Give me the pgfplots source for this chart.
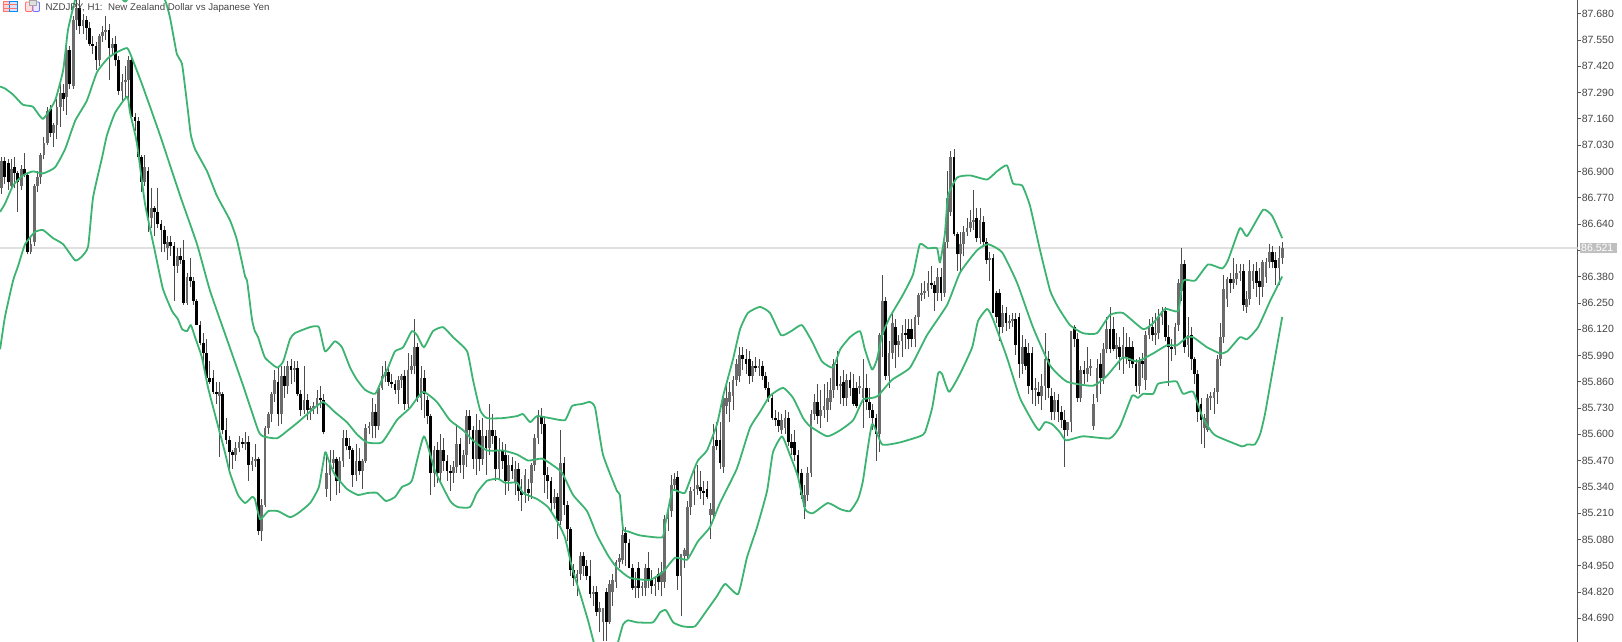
\documentclass[border=0pt]{standalone}
\usepackage{fontspec}
\setmainfont{Liberation Sans}
\usepackage{pgfplots}
\usepackage{pgfplotstable}
\pgfplotsset{compat=1.18}
\definecolor{band}{HTML}{3CB371}
\definecolor{axgrey}{HTML}{555555}
\definecolor{txtgrey}{HTML}{444444}
\pgfplotstableread{
i o h l c
0 86.82 86.97 86.79 86.95
1 86.95 86.97 86.84 86.87
2 86.94 86.96 86.81 86.85
3 86.83 86.96 86.81 86.91
4 86.92 86.97 86.82 86.89
5 86.89 86.90 86.70 86.85
6 86.83 86.93 86.81 86.91
7 86.91 86.99 86.87 86.88
8 86.88 86.89 86.49 86.50
9 86.50 86.58 86.49 86.54
10 86.55 86.84 86.53 86.83
11 86.83 86.90 86.80 86.87
12 86.87 86.99 86.84 86.98
13 86.98 87.07 86.96 87.04
14 87.04 87.22 87.03 87.20
15 87.21 87.23 87.07 87.09
16 87.09 87.14 87.02 87.13
17 87.13 87.26 87.06 87.22
18 87.22 87.33 87.12 87.29
19 87.29 87.33 87.20 87.26
20 87.27 87.51 87.18 87.50
21 87.50 87.52 87.31 87.33
22 87.32 87.67 87.31 87.65
23 87.65 87.75 87.60 87.71
24 87.71 87.75 87.58 87.62
25 87.62 87.68 87.58 87.65
26 87.65 87.67 87.55 87.61
27 87.61 87.64 87.52 87.53
28 87.53 87.57 87.48 87.52
29 87.52 87.54 87.40 87.45
30 87.45 87.58 87.42 87.57
31 87.57 87.62 87.54 87.59
32 87.59 87.67 87.55 87.60
33 87.60 87.63 87.35 87.51
34 87.51 87.56 87.47 87.53
35 87.53 87.57 87.42 87.45
36 87.45 87.47 87.28 87.30
37 87.30 87.38 87.25 87.34
38 87.34 87.42 87.26 87.35
39 87.35 87.47 87.24 87.45
40 87.45 87.46 87.15 87.17
41 87.17 87.19 87.10 87.15
42 87.15 87.17 86.96 86.97
43 86.97 86.98 86.80 86.85
44 86.85 86.98 86.83 86.92
45 86.90 86.92 86.60 86.67
46 86.67 86.82 86.62 86.72
47 86.72 86.73 86.58 86.70
48 86.70 86.82 86.62 86.64
49 86.64 86.66 86.50 86.61
50 86.61 86.63 86.50 86.54
51 86.52 86.58 86.46 86.55
52 86.55 86.58 86.48 86.53
53 86.53 86.55 86.26 86.43
54 86.43 86.52 86.40 86.48
55 86.48 86.52 86.44 86.46
56 86.46 86.56 86.24 86.25
57 86.25 86.40 86.24 86.38
58 86.38 86.47 86.33 86.36
59 86.36 86.38 86.24 86.26
60 86.26 86.27 86.14 86.14
61 86.14 86.16 86.04 86.05
62 86.05 86.10 85.93 86.00
63 86.00 86.07 85.88 85.88
64 85.88 85.96 85.85 85.86
65 85.88 85.92 85.80 85.81
66 85.81 85.86 85.75 85.80
67 85.79 85.86 85.49 85.81
68 85.80 85.81 85.60 85.62
69 85.62 85.68 85.55 85.57
70 85.57 85.59 85.42 85.51
71 85.51 85.52 85.43 85.50
72 85.50 85.56 85.47 85.53
73 85.53 85.59 85.51 85.56
74 85.56 85.58 85.53 85.55
75 85.55 85.61 85.52 85.56
76 85.56 85.59 85.37 85.45
77 85.45 85.49 85.42 85.47
78 85.47 85.55 85.44 85.48
79 85.48 85.49 85.10 85.12
80 85.12 85.28 85.07 85.25
81 85.25 85.64 85.24 85.63
82 85.63 85.71 85.60 85.70
83 85.70 85.81 85.66 85.80
84 85.80 85.92 85.76 85.87
85 85.86 85.93 85.64 85.70
86 85.70 85.94 85.65 85.89
87 85.89 85.94 85.78 85.84
88 85.84 85.96 85.80 85.94
89 85.94 85.97 85.85 85.92
90 85.92 85.96 85.86 85.93
91 85.93 85.96 85.79 85.80
92 85.80 85.82 85.69 85.72
93 85.72 85.94 85.70 85.77
94 85.77 85.80 85.67 85.72
95 85.72 85.74 85.67 85.73
96 85.73 85.76 85.70 85.74
97 85.74 85.82 85.70 85.78
98 85.78 85.84 85.73 85.77
99 85.77 85.80 85.60 85.61
100 85.33 85.51 85.29 85.41
101 85.40 85.52 85.27 85.46
102 85.46 85.52 85.43 85.48
103 85.48 85.49 85.30 85.37
104 85.37 85.49 85.31 85.47
105 85.47 85.62 85.44 85.58
106 85.58 85.62 85.52 85.54
107 85.54 85.58 85.48 85.52
108 85.52 85.53 85.34 85.40
109 85.40 85.55 85.37 85.47
110 85.47 85.53 85.40 85.42
111 85.42 85.48 85.33 85.47
112 85.47 85.65 85.46 85.63
113 85.63 85.66 85.60 85.64
114 85.64 85.78 85.58 85.71
115 85.71 85.75 85.58 85.64
116 85.64 85.83 85.62 85.83
117 85.83 85.94 85.82 85.89
118 85.89 85.96 85.86 85.91
119 85.91 85.94 85.84 85.86
120 85.86 85.90 85.83 85.85
121 85.85 85.87 85.80 85.82
122 85.82 85.89 85.75 85.87
123 85.87 85.90 85.83 85.89
124 85.89 85.92 85.72 85.75
125 85.75 86.00 85.73 85.92
126 85.92 85.99 85.90 85.94
127 85.94 86.17 85.90 86.03
128 86.03 86.05 85.76 85.78
129 85.78 85.94 85.72 85.88
130 85.88 85.92 85.68 85.80
131 85.77 85.79 85.65 85.69
132 85.69 85.70 85.30 85.41
133 85.41 85.54 85.34 85.52
134 85.52 85.56 85.36 85.41
135 85.41 85.60 85.37 85.52
136 85.52 85.58 85.42 85.47
137 85.47 85.50 85.37 85.42
138 85.42 85.45 85.32 85.41
139 85.41 85.47 85.36 85.44
140 85.44 85.65 85.41 85.55
141 85.55 85.58 85.41 85.45
142 85.45 85.52 85.38 85.50
143 85.50 85.72 85.44 85.69
144 85.69 85.72 85.55 85.62
145 85.62 85.64 85.43 85.48
146 85.48 85.70 85.40 85.62
147 85.62 85.67 85.42 85.48
148 85.48 85.68 85.45 85.59
149 85.59 85.62 85.40 85.53
150 85.53 85.75 85.50 85.62
151 85.62 85.70 85.55 85.59
152 85.59 85.62 85.37 85.43
153 85.43 85.58 85.38 85.52
154 85.52 85.56 85.43 85.47
155 85.50 85.55 85.30 85.37
156 85.37 85.50 85.32 85.45
157 85.45 85.49 85.38 85.42
158 85.36 85.47 85.30 85.43
159 85.43 85.46 85.27 85.32
160 85.32 85.38 85.22 85.30
161 85.30 85.43 85.26 85.40
162 85.33 85.38 85.27 85.31
163 85.36 85.46 85.28 85.45
164 85.45 85.60 85.42 85.58
165 85.58 85.72 85.55 85.69
166 85.69 85.73 85.60 85.65
167 85.65 85.69 85.31 85.40
168 85.40 85.44 85.28 85.37
169 85.37 85.39 85.21 85.26
170 85.26 85.33 85.23 85.29
171 85.29 85.31 85.08 85.17
172 85.17 85.62 85.15 85.46
173 85.46 85.49 85.20 85.25
174 85.25 85.27 85.07 85.13
175 85.13 85.14 84.90 84.93
176 84.93 84.96 84.85 84.89
177 84.89 84.93 84.80 84.91
178 84.91 85.02 84.88 85.00
179 85.00 85.02 84.90 84.95
180 84.95 84.98 84.88 84.90
181 84.90 84.98 84.79 84.81
182 84.81 84.85 84.75 84.82
183 84.82 84.85 84.70 84.72
184 84.72 84.77 84.62 84.74
185 84.67 84.74 84.58 84.74
186 84.82 84.84 84.58 84.67
187 84.67 84.88 84.66 84.86
188 84.82 84.91 84.75 84.88
189 84.87 84.98 84.84 84.97
190 84.97 85.01 84.94 84.99
191 84.98 85.14 84.96 85.10
192 85.11 85.14 84.95 85.06
193 85.06 85.08 84.94 84.94
194 84.94 84.96 84.83 84.84
195 84.84 84.92 84.79 84.85
196 84.94 84.97 84.79 84.84
197 84.84 84.87 84.80 84.85
198 84.84 84.96 84.80 84.94
199 84.94 85.02 84.84 84.88
200 84.88 84.93 84.81 84.85
201 84.85 84.90 84.80 84.86
202 84.91 84.94 84.83 84.87
203 84.87 84.97 84.80 84.92
204 84.87 85.20 84.84 85.18
205 85.18 85.25 85.12 85.22
206 85.22 85.40 85.19 85.35
207 85.35 85.41 85.32 85.38
208 85.39 85.42 84.83 84.90
209 84.90 85.01 84.70 85.01
210 85.00 85.04 84.94 85.03
211 85.00 85.27 84.98 85.24
212 85.24 85.34 85.20 85.32
213 85.32 85.43 85.25 85.33
214 85.33 85.45 85.30 85.35
215 85.34 85.42 85.28 85.32
216 85.32 85.37 85.25 85.31
217 85.33 85.37 85.28 85.29
218 85.20 85.26 85.08 85.23
219 85.20 85.65 85.18 85.54
220 85.57 85.66 85.52 85.54
221 85.57 85.66 85.43 85.46
222 85.44 85.79 85.41 85.78
223 85.74 85.85 85.70 85.78
224 85.76 85.86 85.66 85.81
225 85.79 85.89 85.72 85.87
226 85.87 85.97 85.84 85.95
227 85.89 86.03 85.86 85.99
228 85.99 86.03 85.92 85.97
229 85.97 86.02 85.90 85.95
230 85.97 86.01 85.85 85.89
231 85.89 85.96 85.86 85.94
232 85.94 85.98 85.91 85.93
233 85.93 85.97 85.89 85.94
234 85.94 85.96 85.87 85.89
235 85.89 85.91 85.82 85.83
236 85.83 85.86 85.76 85.78
237 85.78 85.80 85.67 85.68
238 85.68 85.72 85.64 85.67
239 85.67 85.71 85.61 85.64
240 85.62 85.70 85.60 85.67
241 85.63 85.72 85.60 85.68
242 85.68 85.71 85.54 85.56
243 85.56 85.60 85.50 85.53
244 85.56 85.62 85.47 85.50
245 85.50 85.52 85.39 85.41
246 85.41 85.43 85.28 85.30
247 85.24 85.35 85.18 85.30
248 85.30 85.44 85.27 85.41
249 85.41 85.72 85.39 85.70
250 85.70 85.80 85.67 85.76
251 85.76 85.85 85.65 85.69
252 85.69 85.82 85.63 85.72
253 85.72 85.85 85.68 85.74
254 85.72 85.86 85.66 85.78
255 85.76 85.88 85.72 85.82
256 85.82 85.97 85.78 85.95
257 85.95 86.01 85.82 85.84
258 85.84 85.89 85.75 85.85
259 85.86 85.92 85.74 85.78
260 85.78 85.90 85.74 85.87
261 85.87 85.91 85.79 85.83
262 85.83 85.90 85.74 85.75
263 85.83 85.86 85.73 85.74
264 85.83 85.89 85.80 85.84
265 85.78 85.97 85.63 85.83
266 85.83 85.90 85.72 85.76
267 85.76 85.83 85.68 85.72
268 85.72 85.75 85.62 85.68
269 85.68 85.70 85.47 85.60
270 85.60 86.10 85.51 86.09
271 86.09 86.39 85.98 86.26
272 86.26 86.28 85.87 85.89
273 85.89 86.06 85.83 86.00
274 86.00 86.20 85.97 86.15
275 86.13 86.17 85.93 86.04
276 86.04 86.09 85.98 86.06
277 86.06 86.14 85.98 86.10
278 86.10 86.17 86.02 86.09
279 86.12 86.17 86.02 86.07
280 86.12 86.17 86.03 86.07
281 86.07 86.19 86.03 86.18
282 86.18 86.30 86.14 86.29
283 86.29 86.35 86.26 86.30
284 86.30 86.36 86.27 86.31
285 86.31 86.41 86.28 86.35
286 86.35 86.43 86.32 86.34
287 86.34 86.36 86.21 86.30
288 86.30 86.42 86.26 86.38
289 86.38 86.42 86.26 86.30
290 86.30 86.55 86.28 86.55
291 86.55 86.90 86.52 86.77
292 86.70 87.00 86.68 86.97
293 86.97 87.01 86.58 86.59
294 86.59 86.60 86.41 86.49
295 86.49 86.60 86.40 86.54
296 86.54 86.63 86.48 86.60
297 86.60 86.67 86.58 86.62
298 86.62 86.71 86.60 86.65
299 86.65 86.81 86.61 86.66
300 86.67 86.72 86.55 86.57
301 86.57 86.72 86.54 86.66
302 86.65 86.68 86.53 86.55
303 86.55 86.57 86.44 86.46
304 86.46 86.50 86.36 86.47
305 86.47 86.49 86.20 86.20
306 86.30 86.31 86.15 86.18
307 86.30 86.32 86.06 86.13
308 86.13 86.24 86.10 86.20
309 86.20 86.23 86.11 86.15
310 86.15 86.19 86.12 86.16
311 86.16 86.20 86.13 86.17
312 86.17 86.20 85.99 86.04
313 86.18 86.20 85.88 85.95
314 85.95 86.09 85.90 86.03
315 86.03 86.07 85.92 85.94
316 86.00 86.05 85.80 85.84
317 86.00 86.03 85.75 85.82
318 85.82 85.88 85.74 85.83
319 85.81 85.86 85.75 85.79
320 85.79 85.90 85.72 85.84
321 85.84 86.10 85.77 85.97
322 85.97 86.01 85.78 85.83
323 85.79 85.83 85.67 85.71
324 85.71 85.81 85.67 85.77
325 85.77 85.80 85.66 85.71
326 85.71 85.74 85.63 85.67
327 85.67 85.72 85.44 85.62
328 85.62 85.66 85.59 85.66
329 85.66 86.11 85.61 86.11
330 86.13 86.14 86.03 86.07
331 86.07 86.10 85.76 85.78
332 85.78 85.94 85.76 85.92
333 85.92 85.96 85.85 85.90
334 85.90 86.03 85.86 85.93
335 85.93 85.97 85.89 85.94
336 85.64 85.80 85.62 85.75
337 85.78 85.97 85.76 85.93
338 85.95 86.00 85.80 85.88
339 85.88 86.05 85.85 86.02
340 86.02 86.18 86.00 86.12
341 86.12 86.23 86.00 86.02
342 86.12 86.18 86.01 86.02
343 86.02 86.10 85.97 86.04
344 86.03 86.08 85.92 85.98
345 85.98 86.13 85.90 86.04
346 86.03 86.10 85.95 85.98
347 86.03 86.08 85.93 85.96
348 86.03 86.06 85.93 85.95
349 85.95 85.97 85.81 85.84
350 85.84 85.98 85.80 85.96
351 85.96 86.00 85.88 85.95
352 85.87 86.11 85.82 86.09
353 86.09 86.17 86.07 86.13
354 86.13 86.18 86.06 86.09
355 86.09 86.20 86.04 86.10
356 86.10 86.22 86.07 86.18
357 86.18 86.23 86.14 86.21
358 86.21 86.23 86.06 86.08
359 86.08 86.14 85.84 86.03
360 86.03 86.07 85.96 86.02
361 86.02 86.15 85.99 86.13
362 86.14 86.37 86.11 86.35
363 86.31 86.52 86.26 86.44
364 86.44 86.46 86.00 86.03
365 86.04 86.18 85.98 86.09
366 86.09 86.13 85.92 85.97
367 85.97 85.98 85.85 85.90
368 85.90 85.92 85.66 85.71
369 85.75 85.78 85.55 85.67
370 85.63 85.70 85.53 85.68
371 85.62 85.80 85.61 85.78
372 85.78 85.81 85.72 85.79
373 85.78 85.83 85.70 85.81
374 85.81 85.99 85.75 85.97
375 85.97 86.15 85.94 86.08
376 86.08 86.39 86.05 86.32
377 86.27 86.38 86.23 86.37
378 86.37 86.40 86.30 86.35
379 86.35 86.47 86.32 86.37
380 86.37 86.44 86.34 86.40
381 86.40 86.44 86.36 86.41
382 86.41 86.44 86.21 86.24
383 86.23 86.31 86.20 86.27
384 86.27 86.46 86.24 86.41
385 86.36 86.44 86.32 86.41
386 86.41 86.45 86.28 86.35
387 86.36 86.42 86.24 86.33
388 86.33 86.46 86.28 86.45
389 86.38 86.47 86.35 86.45
390 86.45 86.54 86.42 86.50
391 86.50 86.53 86.42 86.45
392 86.46 86.50 86.34 86.42
393 86.42 86.53 86.34 86.47
394 86.47 86.55 86.44 86.52
}\candletable
\pgfplotstableread{
i p
-0.5 87.32
1 87.31
3.5 87.28
6.5 87.23
9.6 87.22
12.7 87.16
16.4 87.25
18.9 87.40
20.4 87.60
22.6 87.75
24 87.85
30.2 87.95
36.4 87.77
38 87.74
39.5 87.77
45.6 87.90
50.2 87.75
51.8 87.66
53.9 87.48
55.5 87.43
57.3 87.20
58.2 87.08
59.5 87.01
63.2 86.90
66.2 86.78
70.2 86.66
72.4 86.56
74.9 86.38
75.5 86.36
77 86.17
77.9 86.11
78.9 86.08
81 85.98
84.7 85.93
86.6 85.96
88.7 86.07
90.2 86.10
94.9 86.13
97.6 86.13
99.5 86.01
102.5 86.06
104.7 86.03
107.2 85.93
109.3 85.87
111.8 85.82
114.9 85.80
117 85.87
118.9 85.93
121 86.01
123.5 86.03
126.2 86.11
127.8 86.09
129.9 86.03
132.7 86.11
135.8 86.13
138.9 86.08
143.2 86.01
145 85.87
147.2 85.72
149.3 85.68
154.2 85.68
158.6 85.69
160.4 85.70
162.6 85.66
164.7 85.69
168.7 85.68
173.3 85.67
175.5 85.74
178.6 85.75
181 85.76
182.6 85.73
185 85.50
189.3 85.32
190.2 85.30
191.2 85.13
192.7 85.12
196.4 85.10
203.2 85.09
204.1 85.15
206.3 85.32
207.8 85.32
210.2 85.31
212.4 85.40
214.2 85.47
217 85.52
220.1 85.65
222 85.79
225 85.97
227.2 86.12
229.6 86.20
233.3 86.23
236.4 86.20
239.8 86.09
242.9 86.11
246.2 86.14
249.3 86.06
252.4 85.96
255.8 85.93
258 86.02
261 86.08
264.1 86.11
265.6 86.02
267.8 85.92
269.3 85.97
270.9 86.09
273.3 86.18
277.3 86.29
280.4 86.39
282.5 86.54
285 86.52
287.8 86.52
288.7 86.45
290.2 86.59
291.2 86.78
294 86.87
298 86.88
303.2 86.86
306.2 86.90
309.3 86.93
311.2 86.84
314 86.83
316.4 86.73
319.5 86.51
322.6 86.31
325 86.23
328.7 86.14
332.7 86.10
337 86.10
341 86.19
345 86.20
351.2 86.12
354.3 86.15
358 86.22
362 86.21
363.5 86.36
367.2 86.36
371.2 86.44
375.5 86.42
377.3 86.46
381 86.62
383.2 86.58
388.1 86.71
390.9 86.68
394 86.57
}\bandupper
\pgfplotstableread{
i p
-0.5 86.70
1 86.74
3.5 86.83
6.5 86.88
9.6 86.90
12.7 86.89
16.4 86.92
19.5 87.01
22.6 87.15
26.2 87.25
29.3 87.39
32.7 87.46
35.5 87.49
38.6 87.51
40.1 87.46
43.2 87.33
48.7 87.08
54.9 86.78
60.1 86.54
64.1 86.31
69.3 86.07
74.3 85.84
78.9 85.62
80.4 85.59
84.7 85.58
88.1 85.62
91.2 85.66
95.5 85.72
98.9 85.76
102.5 85.71
106.2 85.66
109.3 85.60
112.4 85.56
117 85.56
121.6 85.67
125.6 85.73
129.6 85.81
133.9 85.76
137.9 85.67
142 85.62
145 85.57
149.3 85.52
154.2 85.52
158.6 85.50
162 85.47
166.2 85.48
169.3 85.45
172.4 85.41
175.8 85.30
180.1 85.22
183.2 85.10
186.6 85.00
189.3 84.94
193.3 84.89
199.5 84.88
203.5 84.92
207.2 84.99
210.9 84.98
214.2 85.07
217.9 85.14
221 85.26
226.2 85.43
230.2 85.63
233.3 85.71
236.4 85.79
240.4 85.83
243.5 85.78
246.6 85.68
248.7 85.64
254 85.59
258 85.62
262 85.67
265 85.77
267.8 85.78
269.6 85.79
274 85.87
279.5 85.93
284.7 86.09
290.9 86.24
294.9 86.40
300.1 86.51
303.5 86.54
307.8 86.50
312.4 86.35
317.3 86.13
322.6 85.94
327.8 85.86
335.8 85.84
340.1 85.89
345 85.98
349.3 85.96
354.3 86.00
358.5 86.04
361.6 86.04
364.7 86.08
366.6 86.08
370.9 86.03
374.9 86.00
377.1 86.01
381 86.08
383.2 86.07
386.6 86.13
390.3 86.26
394 86.38
}\bandmiddle
\pgfplotstableread{
i p
-0.5 86.02
1 86.18
3.5 86.36
5 86.43
7.2 86.54
10.2 86.60
12.7 86.61
15.8 86.57
18.9 86.54
22.6 86.46
24.7 86.48
26.6 86.53
28.1 86.77
30.9 86.97
32.4 87.08
34.9 87.19
38.6 87.27
39.5 87.19
41.6 87.04
44.1 86.74
47.2 86.50
49.6 86.32
52.4 86.21
54.2 86.17
55.5 86.12
57 86.11
58.2 86.14
59.5 86.08
61.6 85.98
63.5 85.83
65.6 85.70
68.7 85.51
70.2 85.41
72.7 85.30
74.9 85.26
77 85.29
77.9 85.28
79.5 85.18
82 85.22
85 85.22
88.7 85.19
91.2 85.21
94.9 85.26
97.6 85.34
99.5 85.51
100.4 85.48
102.5 85.40
106.2 85.33
109.6 85.30
112.7 85.31
115.5 85.31
118.2 85.27
121 85.29
123.2 85.34
126.2 85.37
129.9 85.59
133.3 85.42
138 85.27
140.4 85.24
144.1 85.24
146.2 85.31
149.3 85.37
152.7 85.38
154.9 85.36
158.6 85.36
160.4 85.31
164.7 85.28
168.1 85.24
170.9 85.17
173.3 85.09
175.5 84.94
178 84.81
180.4 84.68
182.2 84.57
184.1 84.48
187.8 84.48
189.6 84.57
191.2 84.66
192.7 84.68
195.5 84.67
200.4 84.67
202.6 84.72
204.4 84.73
206.6 84.67
209.6 84.65
213.3 84.65
217 84.73
220.1 84.80
222.6 84.86
226.6 84.81
229.3 84.99
232.4 85.14
235.5 85.32
237.3 85.51
240.1 85.59
242.5 85.50
245 85.39
247.2 85.23
249.6 85.21
254.2 85.26
258 85.23
261 85.22
263.5 85.28
265 85.37
267.8 85.65
270.9 85.55
276.4 85.56
282.5 85.59
284.1 85.61
286.3 85.73
288.1 85.90
289.3 85.90
291.5 85.81
294.9 85.90
298.6 86.03
300.4 86.16
303.2 86.22
305 86.17
309.3 85.98
313.3 85.78
317.3 85.66
319.2 85.62
321 85.66
323.2 85.65
325.6 85.61
327.5 85.57
332.7 85.59
341 85.58
344.1 85.64
347.8 85.79
349.6 85.78
351.2 85.80
354.3 85.80
355.8 85.85
359.5 85.86
361.6 85.86
363.5 85.80
366.6 85.81
369.6 85.68
372.4 85.61
373.9 85.59
381.6 85.54
383.2 85.55
385.6 85.55
387.2 85.60
388.7 85.70
390.9 85.90
394 86.18
}\bandlower
\begin{document}
\begin{tikzpicture}
\path[use as bounding box] (0pt,0pt) rectangle (1622pt,642pt);
\begin{axis}[
  at={(0pt,0pt)}, anchor=south west,
  scale only axis, width=1577.7pt, height=642pt,
  xmin=-0.523, xmax=484.92, ymin=84.5728, ymax=87.7478,
  axis x line=none, axis y line=right,
  axis line style={-, color=axgrey, line width=0.9pt},
  xtick=\empty,
  ytick={84.69,84.82,84.95,85.08,85.21,85.34,85.47,85.60,85.73,85.86,85.99,86.12,86.25,86.38,86.51,86.64,86.77,86.90,87.03,87.16,87.29,87.42,87.55,87.68},
  tick align=outside, major tick length=3.5pt,
  tick style={color=axgrey, line width=0.7pt},
  yticklabel style={font=\fontsize{10.5}{12}\selectfont, text=txtgrey, inner xsep=0.4pt, /pgf/number format/.cd, fixed, fixed zerofill, precision=3, assume math mode=true},
  scaled y ticks=false,
  clip=true,
]
\addplot[color=black!12, line width=1.3pt, forget plot] coordinates {(-0.523,86.521)(484.92,86.521)};
% wicks
\addplot[draw=none, mark=none, forget plot, error bars/.cd, y dir=plus, y explicit, error mark=none,
  error bar style={draw=black!70, line width=0.9pt}]
  table[x=i, y=l, y error plus expr=\thisrow{h}-\thisrow{l}] {\candletable};
% rising bodies
\addplot[draw=none, mark=none, forget plot, error bars/.cd, y dir=plus, y explicit, error mark=none,
  error bar style={draw=black!58, line width=2.8pt}]
  table[x=i, y=o, y error plus expr={max(\thisrow{c}-\thisrow{o},0)}] {\candletable};
% falling bodies
\addplot[draw=none, mark=none, forget plot, error bars/.cd, y dir=minus, y explicit, error mark=none,
  error bar style={draw=black, line width=2.9pt}]
  table[x=i, y=o, y error minus expr={max(\thisrow{o}-\thisrow{c},0)}] {\candletable};
% Bollinger bands
\addplot[color=band, line width=1.8pt, line join=round, smooth, tension=0.3, forget plot] table[x=i,y=p] {\bandupper};
\addplot[color=band, line width=1.8pt, line join=round, smooth, tension=0.3, forget plot] table[x=i,y=p] {\bandmiddle};
\addplot[color=band, line width=1.8pt, line join=round, smooth, tension=0.3, forget plot] table[x=i,y=p] {\bandlower};
\end{axis}
% current price tag
\fill[black!25] (1580pt,389.3pt) rectangle (1616.7pt,399pt);
\node[anchor=base west, inner sep=0pt, text=white, font=\fontsize{10.5}{12}\selectfont] at (1581pt,390.3pt) {86.521};
% header icons
\draw[draw=red!55, fill=red!18, line width=0.8pt] (3.5pt,630.5pt) rectangle (9.5pt,641pt);
\draw[draw=blue!45!cyan, fill=blue!12, line width=0.8pt] (9.5pt,630.5pt) rectangle (17pt,641pt);
\draw[draw=red!55, line width=0.6pt] (3.5pt,634pt) -- (17pt,634pt);
\draw[draw=red!55, line width=0.6pt] (3.5pt,637.5pt) -- (17pt,637.5pt);
\draw[draw=red!55, fill=red!12, line width=0.8pt, rounded corners=1pt] (25.5pt,630.5pt) rectangle (32.5pt,640pt);
\draw[draw=blue!55, fill=blue!8, line width=0.8pt, rounded corners=1pt] (33pt,630.5pt) rectangle (39.5pt,640pt);
\draw[draw=black!35, fill=black!12, line width=0.5pt] (29pt,637pt) rectangle (36pt,642pt);
% header text
\node[anchor=base west, inner sep=0pt, text=txtgrey, font=\fontsize{9.7}{12}\selectfont] at (45.5pt,631.5pt) {NZDJPY, H1:\ \ New Zealand Dollar vs Japanese Yen};
\end{tikzpicture}
\end{document}
